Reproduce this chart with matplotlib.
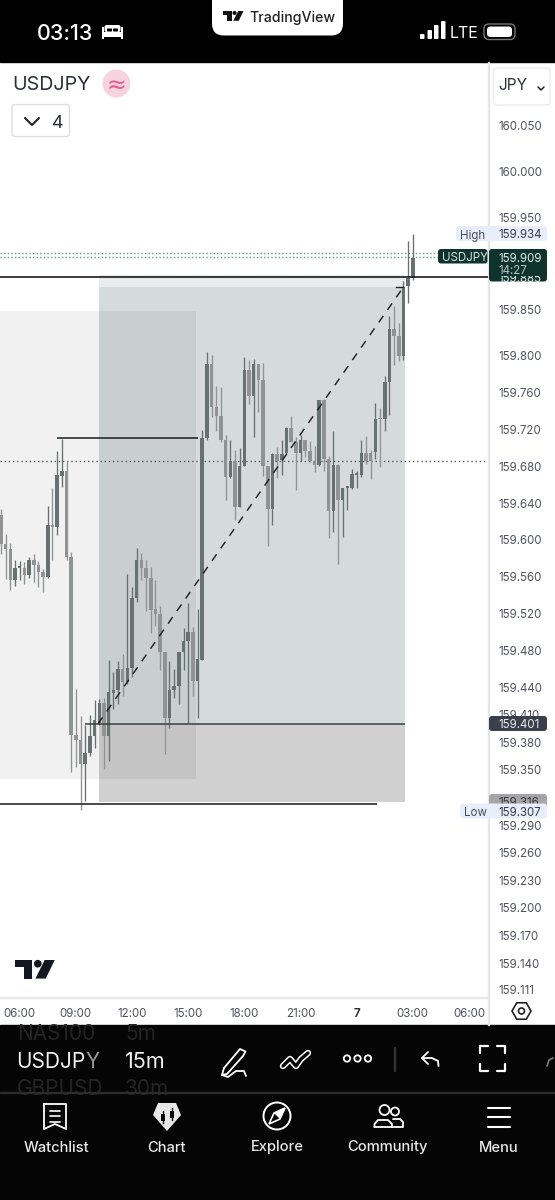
import matplotlib
matplotlib.use("Agg")
import numpy as np
import matplotlib.pyplot as plt
from matplotlib.patches import Rectangle, FancyBboxPatch, Circle, Polygon

plt.rcParams['font.family'] = ['Inter', 'DejaVu Sans']

opens = [159.627,159.596,159.590,159.557,159.570,159.570,159.562,159.578,159.573,159.565,
         159.560,159.616,159.614,159.670,159.675,159.582,159.388,159.383,159.357,159.368,
         159.387,159.401,159.423,159.387,159.434,159.437,159.460,159.446,159.461,159.537,
         159.578,159.570,159.559,159.525,159.520,159.478,159.407,159.437,159.441,159.478,
         159.490,159.500,159.447,159.470,159.711,159.791,159.745,159.735,159.709,159.668,
         159.686,159.636,159.680,159.785,159.757,159.791,159.774,159.680,159.634,159.694,
         159.687,159.695,159.722,159.707,159.695,159.709,159.697,159.686,159.681,159.752,
         159.688,159.631,159.682,159.643,159.657,159.657,159.671,159.671,159.695,159.695,
         159.696,159.732,159.731,159.772,159.829,159.822,159.800,159.876,159.885]
highs = [159.634,159.607,159.597,159.578,159.577,159.576,159.582,159.585,159.577,159.569,
         159.637,159.657,159.697,159.710,159.686,159.587,159.438,159.409,159.399,159.410,
         159.426,159.427,159.428,159.470,159.457,159.468,159.476,159.563,159.549,159.591,
         159.586,159.578,159.571,159.557,159.528,159.478,159.469,159.460,159.478,159.504,
         159.531,159.505,159.525,159.720,159.804,159.801,159.767,159.766,159.714,159.709,
         159.698,159.700,159.799,159.796,159.797,159.791,159.792,159.680,159.695,159.701,
         159.709,159.723,159.735,159.712,159.714,159.709,159.708,159.702,159.752,159.753,
         159.691,159.718,159.683,159.656,159.659,159.677,159.675,159.709,159.713,159.698,
         159.749,159.743,159.778,159.843,159.854,159.836,159.881,159.925,159.933]
lows = [159.585,159.558,159.546,159.550,159.557,159.552,159.559,159.554,159.549,159.544,
        159.559,159.578,159.605,159.658,159.578,159.348,159.353,159.307,159.316,159.365,
        159.374,159.399,159.351,159.360,159.416,159.422,159.430,159.444,159.451,159.533,
        159.557,159.523,159.499,159.507,159.459,159.367,159.396,159.428,159.422,159.459,
        159.401,159.430,159.407,159.470,159.709,159.734,159.718,159.707,159.643,159.667,
        159.622,159.636,159.680,159.748,159.712,159.739,159.670,159.594,159.616,159.667,
        159.671,159.694,159.706,159.654,159.686,159.690,159.685,159.674,159.680,159.675,
        159.602,159.609,159.574,159.603,159.633,159.655,159.656,159.669,159.683,159.666,
        159.688,159.679,159.718,159.736,159.790,159.795,159.796,159.858,159.883]
closes = [159.596,159.590,159.557,159.570,159.571,159.562,159.578,159.573,159.565,159.560,
          159.616,159.614,159.671,159.675,159.582,159.388,159.383,159.357,159.368,159.387,
          159.404,159.423,159.387,159.435,159.437,159.460,159.446,159.461,159.537,159.578,
          159.570,159.559,159.524,159.520,159.478,159.407,159.437,159.441,159.478,159.490,
          159.500,159.447,159.471,159.711,159.791,159.745,159.735,159.709,159.669,159.686,
          159.636,159.680,159.785,159.757,159.791,159.774,159.680,159.634,159.694,159.686,
          159.694,159.722,159.707,159.695,159.709,159.697,159.686,159.681,159.752,159.688,
          159.631,159.682,159.643,159.656,159.659,159.672,159.672,159.695,159.686,159.686,
          159.731,159.731,159.772,159.829,159.822,159.800,159.875,159.885,159.907]

price_ticks = [160.050,160.000,159.950,159.850,159.800,159.760,159.720,159.680,159.640,
               159.600,159.560,159.520,159.480,159.440,159.410,159.380,159.350,159.290,
               159.260,159.230,159.200,159.170,159.140,159.111]
time_idx = [4,16,28,40,52,64,76,88,100]
time_labels = ['06:00','09:00','12:00','15:00','18:00','21:00','7','03:00','06:00']

W, H = 555, 1200
fig = plt.figure(figsize=(W/100, H/100), dpi=100, facecolor='white')

def axpx(x0, y0, x1, y1, z):
    return fig.add_axes([x0/W, 1-y1/H, (x1-x0)/W, (y1-y0)/H], zorder=z)

# ---------- background chrome ----------
bg = axpx(0, 0, W, H, 0)
bg.set_xlim(0, W); bg.set_ylim(H, 0); bg.axis('off')
bg.add_patch(Rectangle((0, 0), W, 62, color='black'))
bg.add_patch(Rectangle((0, 1025), W, 175, color='#050505'))
bg.add_patch(Rectangle((0, 997), 488, 1.2, color='#e6e8ec'))
bg.add_patch(Rectangle((487.5, 62), 1, 963, color='#e4e6ea'))

# ---------- chart ----------
PX_PER_BAR, X0 = 4.68, 1.0
PX_PER_PRICE = 920.0
xl = (0 - X0)/PX_PER_BAR, (488 - X0)/PX_PER_BAR
yl = 160 - (997-172)/PX_PER_PRICE, 160 + (172-62)/PX_PER_PRICE
ax = axpx(0, 62, 488, 997, 1)
ax.patch.set_alpha(0)
ax.set_xlim(*xl); ax.set_ylim(*yl)
for s in ax.spines.values():
    s.set_visible(False)

# position drawings
ax.add_patch(Rectangle((20.9, 159.400), 65.4, 0.475, fc='#d5dbdb', ec='none', zorder=1))
ax.add_patch(Rectangle((20.9, 159.875), 65.4, 0.013, fc='#e8ecec', ec='none', zorder=1))
ax.add_patch(Rectangle((20.9, 159.315), 65.4, 0.085, fc='#d0d0d0', ec='none', zorder=1))
ax.add_patch(Rectangle((-1, 159.340), 42.67, 0.509, fc='black', alpha=0.055, ec='none', zorder=2))

# levels
ax.hlines(159.686, *xl, color='#555a5a', lw=1.0, linestyles=(0, (1, 2)), zorder=3)
ax.hlines(159.912, *xl, color='#5f9c88', lw=1.0, linestyles=(0, (1, 1.6)), zorder=3)
ax.hlines(159.908, *xl, color='#5f9c88', lw=1.0, linestyles=(0, (1, 1.6)), zorder=3)

# candles
o, h, l, c = map(np.array, (opens, highs, lows, closes))
idx = np.arange(len(o))
up = c >= o
col = np.where(up, '#657271', '#8f9393')
ax.vlines(idx, l, h, colors=col, lw=0.95, zorder=4)
ax.bar(idx, np.maximum(np.abs(c-o), 0.0015), bottom=np.minimum(o, c), width=0.76,
       color=col, linewidth=0, zorder=5)

ax.plot([20.7, 86.0], [159.400, 159.875], color='#222', lw=1.05,
        linestyle=(0, (5.5, 5)), zorder=6)
ax.plot([84.4, 86.0], [159.875, 159.875], color='#222', lw=1.0, zorder=6)
ax.hlines(159.886, *xl, color='#1b1b1b', lw=1.2, zorder=7)
ax.hlines(159.313, -1, 80.3, color='#3a3a3a', lw=1.3, zorder=7)
ax.hlines(159.711, 11.97, 42.1, color='#1b1b1b', lw=1.1, zorder=7)
ax.hlines(159.400, 17.95, 86.3, color='#3a3f3f', lw=1.1, zorder=7)

ax.yaxis.tick_right()
ax.set_yticks(price_ticks)
ax.set_yticklabels([f'{p:.3f}' for p in price_ticks], fontsize=8.3, color='#50535e')
ax.tick_params(axis='y', length=0, pad=7.2)
ax.set_xticks(time_idx)
ax.set_xticklabels(time_labels, fontsize=8.3, color='#50535e')
ax.tick_params(axis='x', length=0, pad=8)
ax.get_xticklabels()[6].set_fontweight('bold')
ax.get_xticklabels()[6].set_color('#333')

# ---------- overlay chrome ----------
t = axpx(0, 0, W, H, 2)
t.set_xlim(0, W); t.set_ylim(H, 0); t.axis('off'); t.patch.set_alpha(0)

def rbox(x0, y0, x1, y1, r, fc, ec='none', lw=0, z=5):
    p = FancyBboxPatch((x0+r, y0+r), x1-x0-2*r, y1-y0-2*r,
                       boxstyle=f'round,pad={r},rounding_size={r}', fc=fc, ec=ec, lw=lw, zorder=z)
    t.add_patch(p)
    return p

def txt(x, y, s, size, color, ha='left', weight='normal', z=6, **kw):
    return t.text(x, y, s, fontsize=size, color=color, ha=ha, va='center_baseline',
                  fontweight=weight, zorder=z, **kw)

def line(xs, ys, color='white', lw=1.2, z=6):
    t.plot(xs, ys, color=color, lw=lw, zorder=z, solid_capstyle='round', solid_joinstyle='round')

def tvlogo(x, y, s, color, z=6):
    t.add_patch(Polygon([(x, y), (x+6.6*s, y), (x+6.6*s, y+7*s), (x+3.4*s, y+7*s), (x+3.4*s, y+2.8*s), (x, y+2.8*s)],
                        fc=color, ec='none', zorder=z))
    t.add_patch(Circle((x+8.6*s, y+1.4*s), 1.45*s, fc=color, ec='none', zorder=z))
    t.add_patch(Polygon([(x+11.2*s, y), (x+15*s, y), (x+11.6*s, y+7*s), (x+7.7*s, y+7*s)],
                        fc=color, ec='none', zorder=z))

# status bar
txt(37, 31.5, '03:13', 15.5, 'white', weight='medium')
t.add_patch(Rectangle((102, 32), 21, 5, fc='white', ec='none', zorder=6))
t.add_patch(Rectangle((102, 27), 1.8, 12, fc='white', ec='none', zorder=6))
t.add_patch(Rectangle((121.2, 27), 1.8, 12, fc='white', ec='none', zorder=6))
rbox(104.5, 25, 120.5, 32, 2, 'white')
rbox(107, 28.5, 112, 31.5, 0.8, 'black', z=7)
rbox(113, 28.5, 118, 31.5, 0.8, 'black', z=7)
rbox(212, -12, 343, 35.5, 12, 'white')
tvlogo(222.5, 11, 1.4, '#111')
txt(249, 16.5, 'TradingView', 10.2, '#222', weight='medium')
for sx, sh in zip([421, 428.5, 435, 442], [5, 9, 14, 18]):
    rbox(sx-1, 39-sh, sx+3.5, 39, 1, 'white')
txt(450, 32, 'LTE', 11.5, 'white')
rbox(484, 24, 515, 39.5, 5, 'black', ec='#777', lw=1)
rbox(487, 26.5, 512, 37, 3.5, 'white', z=7)

# legend
txt(12, 83.5, 'USDJPY', 14.2, '#2a2e39')
t.add_patch(Circle((116.5, 83.5), 14, fc='#f7d3df', ec='none', zorder=5))
txt(116.5, 83, '≈', 17, '#ea5a8c', ha='center', family=['DejaVu Sans'])
rbox(12, 104.5, 69.5, 136.5, 3, 'white', ec='#dcdee3', lw=1)
line([25, 32, 39], [118, 125, 118], '#222', 1.5)
txt(57.5, 121, '4', 13, '#2a2e39', ha='center')
rbox(493.5, 68, 550, 105, 4, 'white', ec='#e9ebef', lw=1)
txt(498, 83.5, 'JPY', 11, '#2a2e39')
line([538, 541, 544], [87, 90, 87], '#222', 1.1)

# price labels
rbox(456, 226, 547, 241, 3, '#e8eefb', z=6)
txt(460, 234, 'High', 8.3, '#4a4e59', z=7)
txt(498, 234, '159.934', 8.3, '#3a3e49', z=7)
rbox(438, 249, 487.5, 263.5, 3, '#0f332d', z=6)
txt(442, 256.5, 'USDJPY', 8.3, '#d9e4e1', z=7)
rbox(489, 249, 547, 281.5, 3, '#0f332d', z=6)
txt(498, 277.5, '159.885', 8.3, '#e4ecea', z=7)
t.add_patch(Rectangle((489, 255), 58, 20.5, fc='#0f332d', ec='none', zorder=8))
txt(498, 257, '159.909', 8.3, '#e4ecea', z=9)
txt(498, 269, '14:27', 8.3, '#b6c5c1', z=9)
rbox(489, 716, 547, 731, 3, '#3b3e4c', z=6)
txt(498, 723.5, '159.401', 8.3, '#e8e9ec', z=7)
rbox(489, 794, 547, 812, 3, '#a5a5a7', z=6)
txt(498, 802, '159.316', 8.3, '#3a3a3c', z=7)
rbox(460, 803.5, 547, 818.5, 3, '#e8eefb', z=8)
txt(464, 811, 'Low', 8.3, '#4a4e59', z=9)
txt(498, 811, '159.307', 8.3, '#3a3e49', z=9)

# watermark
tvlogo(15, 960, 2.65, '#131722')

# hexagon settings icon
a = np.deg2rad(np.arange(0, 360, 60))
t.add_patch(Polygon(np.c_[521.5+9.5*np.cos(a), 1011+9.5*np.sin(a)], closed=True, fc='none', ec='#222', lw=1.2, zorder=6))
t.add_patch(Circle((521.5, 1011), 3, fc='none', ec='#222', lw=1.2, zorder=6))

# symbol strip
strip = Rectangle((0, 1025), W, 67, transform=t.transData)
for x, y, s in ((17, 1032, 'NAS100'), (125, 1032, '5m'), (17, 1087, 'GBPUSD'), (125, 1087, '30m')):
    txt(x, y, s, 15, '#242424', z=4).set_clip_path(strip)
txt(16, 1060, 'USDJP', 15, '#f2f2f2')
txt(85.5, 1060, 'Y', 15, '#9a9a9a')
txt(125, 1060, '15m', 15.5, '#f2f2f2')
t.add_patch(Rectangle((0, 1092), W, 1, color='#2c2c2c', zorder=7))

# toolbar icons
line([224, 240, 245.5, 243, 227, 222, 224], [1068, 1049, 1051.5, 1056, 1074, 1075, 1068], 'white', 1.3)
line([222, 228, 236, 244, 246], [1075, 1077, 1071, 1071, 1076], 'white', 1.3)
line([283, 290, 296, 301, 308], [1066, 1059, 1066, 1059, 1053], 'white', 4.6)
line([283, 290, 296, 301, 308], [1066, 1059, 1066, 1059, 1053], 'black', 2.4, z=7)
for cx in (347, 357.5, 368):
    t.add_patch(Circle((cx, 1058.5), 3.2, fc='none', ec='white', lw=1.3, zorder=6))
t.add_patch(Rectangle((393.5, 1047), 1, 24, color='#333', zorder=6))
line([428, 422, 428], [1052, 1058, 1064], 'white', 1.3)
line([422, 432, 438, 438.5], [1058, 1058, 1061, 1066], 'white', 1.3)
for xs, ys in (([480, 480, 488], [1053, 1046, 1046]), ([497, 505, 505], [1046, 1046, 1053]),
               ([480, 480, 488], [1064, 1071, 1071]), ([497, 505, 505], [1071, 1071, 1064])):
    line(xs, ys, 'white', 1.6)
line([547, 549, 553], [1066, 1060, 1058], '#777', 1.3)

# bottom nav
line([44, 44, 55, 66, 66, 44], [1104, 1129, 1124, 1129, 1104, 1104], 'white', 1.3)
for yy in (1110.5, 1116, 1121.5):
    line([50, 60], [yy, yy], 'white', 1.2)
t.add_patch(Polygon([(158, 1103), (176, 1103), (181, 1115), (167, 1131), (153, 1115)], fc='#e8e8e8', ec='none', zorder=6))
for cx, y0, y1 in ((162.5, 1111, 1123), (171.5, 1108, 1120)):
    t.plot([cx, cx], [y0, y1], color='#050505', lw=1, zorder=7)
    t.add_patch(Rectangle((cx-2, y0+2.5), 4, y1-y0-5, fc='#050505', ec='none', zorder=7))
t.add_patch(Circle((277, 1116), 13.5, fc='none', ec='white', lw=1.4, zorder=6))
t.add_patch(Polygon([(269, 1124), (274, 1113), (285, 1108), (280, 1119)], fc='none', ec='white', lw=1.2, zorder=6))
t.add_patch(Polygon([(274, 1113), (285, 1108), (280, 1119)], fc='white', ec='none', zorder=6))
t.add_patch(Circle((384.5, 1110), 5, fc='none', ec='white', lw=1.3, zorder=6))
t.add_patch(Circle((395, 1111.5), 4, fc='none', ec='white', lw=1.3, zorder=6))
line([374.5, 374.5, 378, 388, 392, 392, 374.5], [1127, 1124, 1120, 1120, 1124, 1127, 1127], 'white', 1.3)
line([393, 400, 403, 403, 392], [1119, 1119, 1122, 1127, 1127], 'white', 1.3)
for yy in (1107.5, 1117, 1126.5):
    line([488, 510], [yy, yy], 'white', 1.5)
for x, s in zip([56, 166.5, 277.5, 387.5, 499], ['Watchlist', 'Chart', 'Explore', 'Community', 'Menu']):
    txt(x, 1146, s, 10.6, '#e8e8e8', ha='center', weight='medium')

fig.savefig('out.png', dpi=100)
